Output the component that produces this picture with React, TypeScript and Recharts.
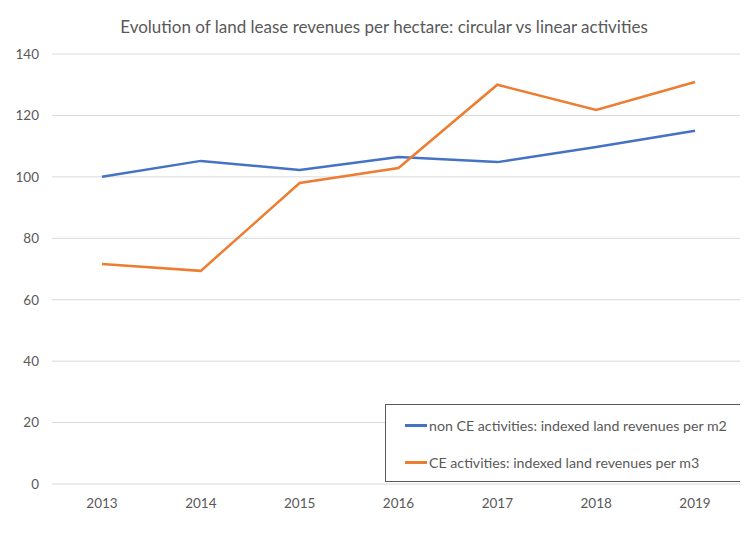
import React from "react";
import {
  LineChart,
  Line,
  XAxis,
  YAxis,
  CartesianGrid,
  Legend,
} from "recharts";

const YEARS = ["2013", "2014", "2015", "2016", "2017", "2018", "2019"];
const NON_CE = [100, 105.2, 102.2, 106.5, 104.8, 109.7, 115];
const CE = [71.6, 69.4, 98, 102.9, 130, 121.8, 130.9];
const Y_TICKS = [0, 20, 40, 60, 80, 100, 120, 140];

const NON_CE_NAME = "non CE activities: indexed land revenues per m2";
const CE_NAME = "CE activities: indexed land revenues per m3";
const LEGEND_ORDER = [NON_CE_NAME, CE_NAME];

const data = YEARS.map((year, i) => ({
  year,
  nonCe: NON_CE[i],
  ce: CE[i],
}));

const FONT = "Lato, 'Liberation Sans', sans-serif";
const TEXT = "#595959";

const renderLegend = (props: any) => {
  const items = [...(props.payload || [])].sort(
    (a: any, b: any) => LEGEND_ORDER.indexOf(a.value) - LEGEND_ORDER.indexOf(b.value),
  );
  return (
    <div
      style={{
        border: "1px solid #595959",
        background: "#fff",
        boxSizing: "border-box",
        width: 358,
        height: 78,
        padding: "11px 0 0 19px",
        fontFamily: FONT,
        fontSize: 14.2,
        color: TEXT,
      }}
    >
      {items.map((item: any) => (
        <div
          key={item.value}
          style={{ display: "flex", alignItems: "center", height: 18, marginBottom: 19 }}
        >
          <span
            style={{
              display: "inline-block",
              width: 22,
              height: 3,
              background: item.color,
              marginRight: 2,
            }}
          />
          <span>{item.value}</span>
        </div>
      ))}
    </div>
  );
};

export default function App() {
  return (
    <div
      style={{
        position: "relative",
        width: 740,
        height: 531,
        marginLeft: -1,
        marginTop: -1,
        borderLeft: "1px solid #d9d9d9",
        borderTop: "1px solid #d9d9d9",
        background: "#fff",
      }}
    >
      <div
        style={{
          position: "absolute",
          top: 8,
          left: 0,
          width: 752,
          textAlign: "center",
          fontFamily: FONT,
          fontSize: 17,
          color: TEXT,
        }}
      >
        Evolution of land lease revenues per hectare: circular vs linear activities
      </div>
      <LineChart
        width={738}
        height={530}
        data={data}
        margin={{ top: 46, right: 1, bottom: 24, left: 0 }}
        style={{ fontFamily: FONT }}
      >
        <CartesianGrid vertical={false} stroke="#d9d9d9" />
        <XAxis
          dataKey="year"
          axisLine={false}
          tickLine={false}
          height={30}
          tickMargin={8}
          padding={{ left: 50, right: 50 }}
          tick={{ fill: TEXT, fontSize: 13.5 }}
        />
        <YAxis
          domain={[0, 140]}
          ticks={Y_TICKS}
          width={44}
          axisLine={false}
          tickLine={false}
          tickMargin={7}
          tick={{ fill: TEXT, fontSize: 13.5 }}
        />
        <Legend
          layout="vertical"
          align="center"
          verticalAlign="middle"
          content={renderLegend}
          wrapperStyle={{ left: 377, top: 396, width: 358 }}
        />
        <Line
          name={NON_CE_NAME}
          dataKey="nonCe"
          stroke="#4472C4"
          strokeWidth={2.5}
          dot={false}
          isAnimationActive={false}
        />
        <Line
          name={CE_NAME}
          dataKey="ce"
          stroke="#ED7D31"
          strokeWidth={2.5}
          dot={false}
          isAnimationActive={false}
        />
      </LineChart>
    </div>
  );
}
